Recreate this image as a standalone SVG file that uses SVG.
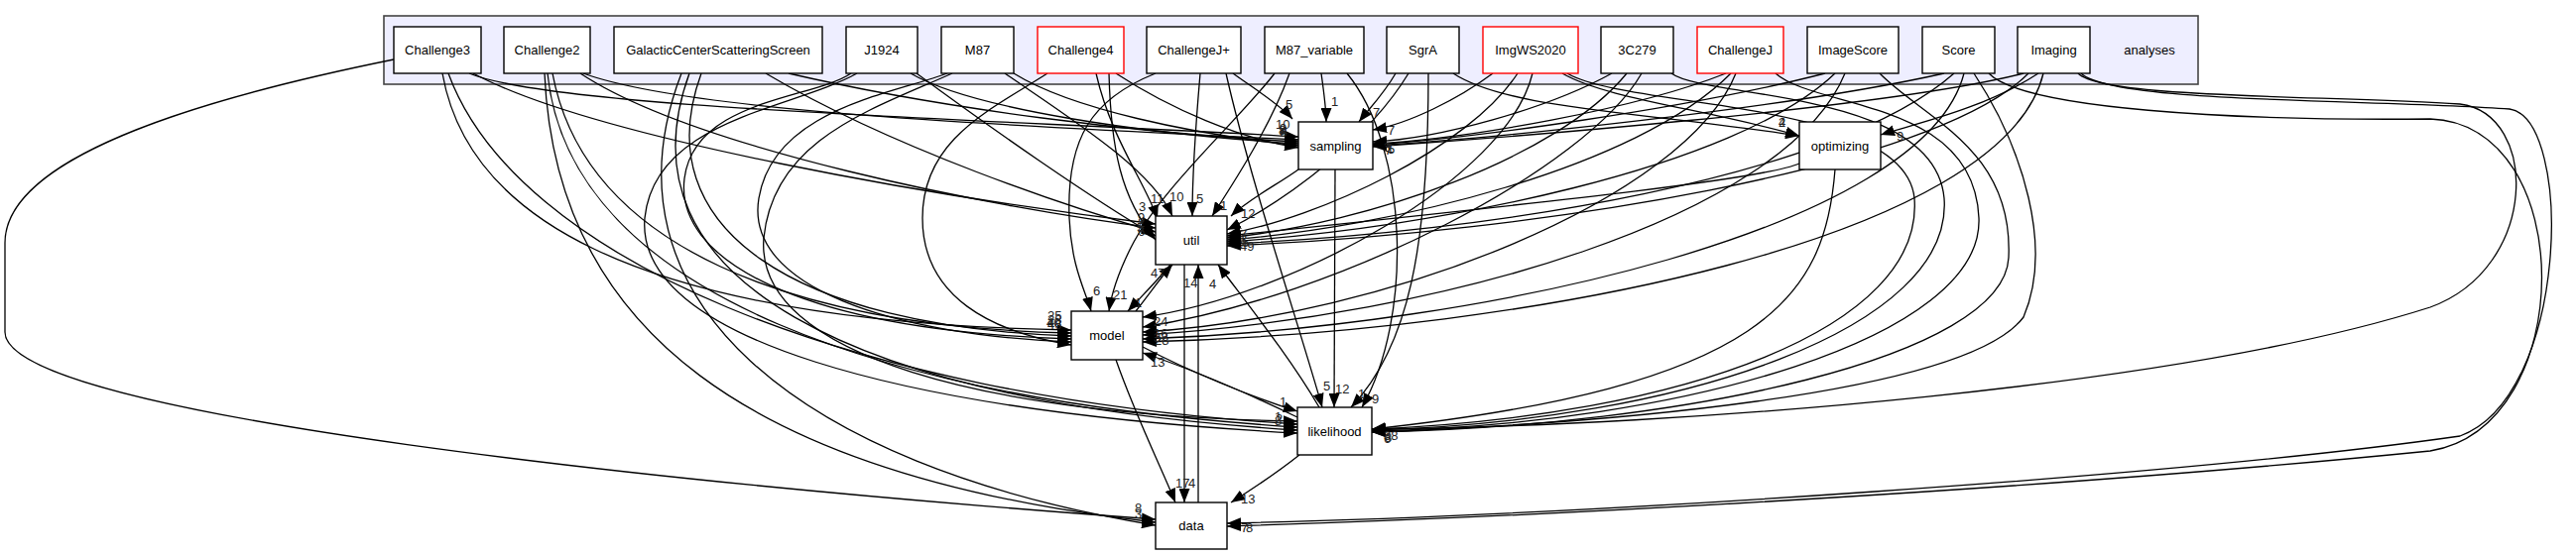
<svg xmlns="http://www.w3.org/2000/svg" width="2597" height="560" viewBox="0 0 2597 560">
<style>
.cl{fill:#eeeeff;stroke:#444;stroke-width:1.6}
.n rect{fill:#fff;stroke:#000;stroke-width:1.4}
.n.r rect{stroke:#ff0000}
.n text,.cl-t{font-family:"Liberation Sans",Arial,sans-serif;font-size:13px;fill:#000;text-anchor:middle}
#edges path{fill:none;stroke:#000;stroke-width:1.3;marker-end:url(#ah)}
#edges text{font-family:"Liberation Sans",Arial,sans-serif;font-size:13px;fill:#222}
</style>
<defs>
<marker id="ah" markerWidth="15" markerHeight="11" refX="14" refY="5.5" orient="auto" markerUnits="userSpaceOnUse">
<path d="M0,0 L14,5.5 L0,11 z" fill="#000"/>
</marker>
</defs>
<rect width="2597" height="560" fill="#fff"/>
<g id="cluster_analyses">
<rect class="cl" x="387" y="16" width="1829" height="69"/>
<text class="cl-t" x="2167" y="55">analyses</text>
</g>
<g id="edges">
<!-- Challenge3 -->
<path d="M397,60 C150,110 5,170 5,245 L5,335 C5,420 700,490 1165,524"/>
<path d="M446,74 C470,210 620,325 1080,333"/>
<path d="M452,74 C520,260 850,400 1308,428"/>
<path d="M473,74 C560,110 1000,120 1309,138"/>
<path d="M477,74 C600,140 950,200 1165,226"/>
<!-- Challenge2 -->
<path d="M549,74 C560,330 750,480 1165,527"/>
<path d="M552,74 C575,300 900,405 1308,431"/>
<path d="M557,74 C590,250 800,330 1080,336"/>
<path d="M585,74 C700,150 1000,210 1165,230"/>
<path d="M588,74 C700,115 1050,128 1309,141"/>
<!-- GalacticCenterScatteringScreen -->
<path d="M687,74 C600,300 800,470 1165,530"/>
<path d="M695,74 C620,280 850,405 1308,434"/>
<path d="M707,74 C650,230 800,330 1080,339"/>
<path d="M772,74 C900,150 1080,210 1165,234"/>
<path d="M795,74 C950,110 1150,135 1309,143"/>
<!-- J1924 -->
<path d="M858,74 C820,100 700,100 690,180 C680,260 800,333 1080,342"/>
<path d="M864,74 C800,110 660,120 650,220 C640,340 900,415 1308,437"/>
<path d="M918,74 C980,110 1150,135 1309,145"/>
<path d="M924,74 C1000,130 1100,200 1165,238"/>
<!-- M87 -->
<path d="M955,74 C900,95 780,110 765,200 C750,290 900,338 1080,345"/>
<path d="M960,74 C880,110 780,140 770,240 C760,360 1000,420 1308,425"/>
<path d="M1013,74 C1080,120 1160,170 1182,218"/>
<path d="M1022,74 C1080,110 1200,135 1309,147"/>
<!-- Challenge4 -->
<path d="M1056,74 C1000,110 930,140 930,220 C930,300 1000,335 1080,348"/>
<path d="M1105,74 C1120,140 1155,185 1167,221"/>
<path d="M1118,74 C1120,150 1130,200 1165,242"/>
<path d="M1125,74 C1180,110 1250,140 1309,149"/>
<!-- ChallengeJ+ -->
<path d="M1165,74 C1100,100 1075,140 1078,220 C1080,270 1095,295 1100,314"/>
<path d="M1210,74 C1206,120 1202,170 1202,218"/>
<path d="M1243,74 C1265,90 1290,105 1303,120"/>
<path d="M1236,74 C1260,180 1310,330 1333,411"/>
<!-- M87_variable -->
<path d="M1285,74 C1250,120 1170,190 1140,250 C1125,280 1120,300 1118,314"/>
<path d="M1300,74 C1280,130 1240,190 1222,218"/>
<path d="M1332,74 C1335,95 1337,110 1337,123"/>
<path d="M1358,74 C1420,150 1425,320 1373,411"/>
<!-- SgrA -->
<path d="M1407,74 C1395,95 1380,110 1370,123"/>
<path d="M1440,74 C1440,250 1420,350 1362,411"/>
<path d="M1420,74 C1380,140 1300,200 1237,232"/>
<path d="M1465,74 C1520,110 1650,112 1814,137"/>
<!-- ImgWS2020 -->
<path d="M1505,74 C1470,100 1420,125 1384,131"/>
<path d="M1530,74 C1480,150 1330,220 1237,236"/>
<path d="M1545,74 C1520,180 1300,300 1152,320"/>
<path d="M1580,74 C1640,110 1920,100 1930,200 C1940,330 1700,420 1383,433"/>
<path d="M1575,74 C1620,100 1720,110 1814,137"/>
<!-- 3C279 -->
<path d="M1625,74 C1560,110 1450,140 1384,143"/>
<path d="M1640,74 C1570,160 1380,225 1237,240"/>
<path d="M1685,74 C1720,100 1950,90 1960,200 C1970,330 1700,425 1383,434"/>
<path d="M1655,74 C1600,170 1350,300 1152,330"/>
<!-- ChallengeJ -->
<path d="M1740,74 C1650,110 1480,140 1384,145"/>
<path d="M1745,74 C1650,170 1400,230 1237,242"/>
<path d="M1750,74 C1700,200 1400,320 1152,335"/>
<path d="M1790,74 C1830,110 1990,100 1995,220 C2000,340 1700,428 1383,435"/>
<!-- ImageScore -->
<path d="M1840,74 C1700,110 1480,140 1384,146"/>
<path d="M1850,74 C1750,170 1450,230 1237,244"/>
<path d="M1860,74 C1800,220 1450,320 1152,338"/>
<path d="M1895,74 C1940,120 2030,150 2025,260 C2020,360 1700,430 1383,436"/>
<!-- Score -->
<path d="M1960,74 C1800,110 1500,140 1384,147"/>
<path d="M1970,74 C1850,180 1500,235 1237,246"/>
<path d="M1980,74 C1940,230 1500,330 1152,342"/>
<path d="M1990,74 C2040,150 2070,250 2040,320 C1980,400 1600,428 1383,436"/>
<path d="M2005,74 C2040,110 2250,122 2450,120 C2600,125 2600,430 2450,455 C2100,490 1600,520 1237,531"/>
<!-- Imaging -->
<path d="M2040,74 C1900,110 1500,140 1384,148"/>
<path d="M2045,74 C1950,170 1550,235 1237,248"/>
<path d="M2055,74 C2000,110 1930,125 1896,136"/>
<path d="M2060,74 C2020,240 1550,335 1152,345"/>
<path d="M2095,74 C2120,100 2350,96 2480,105 C2560,115 2560,270 2450,310 C2200,390 1700,430 1383,433"/>
<path d="M2098,74 C2130,105 2400,100 2530,110 C2595,120 2590,400 2480,440 C2200,480 1600,520 1237,528"/>
<!-- optimizing -->
<path d="M1814,165 C1780,180 1600,200 1237,238"/>
<path d="M1850,171 C1840,300 1780,390 1383,433"/>
<!-- sampling -->
<path d="M1309,171 C1290,185 1260,200 1241,218"/>
<path d="M1346,171 L1345,411"/>
<!-- util -->
<path d="M1180,267 C1165,285 1150,300 1137,314"/>
<path d="M1194,267 L1194,507"/>
<!-- model -->
<path d="M1145,314 C1160,295 1170,280 1182,267"/>
<path d="M1152,350 C1200,375 1260,400 1308,415"/>
<path d="M1125,363 C1145,420 1170,470 1185,507"/>
<!-- likelihood -->
<path d="M1308,421 C1260,398 1200,372 1152,356"/>
<path d="M1330,411 C1300,360 1260,310 1228,267"/>
<path d="M1310,459 C1290,475 1260,495 1241,507"/>
<!-- data -->
<path d="M1208,507 L1208,267"/>
<!-- labels -->
<text x="1286" y="130">10</text><text x="1290" y="134">9</text><text x="1289" y="136">8</text><text x="1291" y="137">4</text><text x="1290" y="138">6</text>
<text x="1296" y="110">5</text><text x="1342" y="107">1</text><text x="1384" y="118">7</text><text x="1399" y="136">7</text>
<text x="1395" y="153">3</text><text x="1399" y="155">5</text><text x="1396" y="156">7</text><text x="1398" y="154">1</text>
<text x="1148" y="213">3</text><text x="1160" y="205">11</text><text x="1179" y="203">10</text><text x="1206" y="205">5</text><text x="1230" y="212">1</text><text x="1251" y="220">12</text>
<text x="1147" y="224">9</text><text x="1147" y="229">2</text><text x="1146" y="234">5</text><text x="1147" y="238">6</text>
<text x="1250" y="241">7</text><text x="1250" y="246">3</text><text x="1252" y="249">5</text><text x="1250" y="253">49</text>
<text x="1160" y="280">47</text><text x="1193" y="290">14</text><text x="1219" y="291">4</text>
<text x="1102" y="298">6</text><text x="1122" y="302">21</text><text x="1144" y="310">1</text>
<text x="1163" y="329">24</text><text x="1163" y="341">16</text><text x="1163" y="345">32</text><text x="1164" y="348">28</text>
<text x="1160" y="370">13</text>
<text x="1056" y="323">25</text><text x="1056" y="327">28</text><text x="1055" y="330">40</text><text x="1056" y="332">46</text>
<text x="1290" y="410">1</text><text x="1285" y="425">1</text><text x="1286" y="427">2</text><text x="1285" y="429">8</text>
<text x="1334" y="394">5</text><text x="1346" y="397">12</text><text x="1369" y="402">1</text><text x="1383" y="407">9</text>
<text x="1395" y="444">38</text><text x="1396" y="446">8</text><text x="1395" y="447">6</text>
<text x="1185" y="492">17</text><text x="1198" y="492">4</text><text x="1251" y="508">13</text>
<text x="1144" y="517">8</text><text x="1144" y="523">3</text>
<text x="1251" y="537">7</text><text x="1256" y="537">8</text>
<text x="1793" y="128">2</text><text x="1793" y="128">4</text><text x="1912" y="142">9</text>
</g>
<g id="node_Challenge3" class="n"><rect x="397" y="27" width="88" height="47"/><text x="441" y="55">Challenge3</text></g>
<g id="node_Challenge2" class="n"><rect x="508" y="27" width="87" height="47"/><text x="551.5" y="55">Challenge2</text></g>
<g id="node_GalacticCenterScatteringScreen" class="n"><rect x="619" y="27" width="210" height="47"/><text x="724" y="55">GalacticCenterScatteringScreen</text></g>
<g id="node_J1924" class="n"><rect x="853" y="27" width="72" height="47"/><text x="889" y="55">J1924</text></g>
<g id="node_M87" class="n"><rect x="949" y="27" width="73" height="47"/><text x="985.5" y="55">M87</text></g>
<g id="node_Challenge4" class="n r"><rect x="1046" y="27" width="87" height="47"/><text x="1089.5" y="55">Challenge4</text></g>
<g id="node_ChallengeJplus" class="n"><rect x="1156" y="27" width="95" height="47"/><text x="1203.5" y="55">ChallengeJ+</text></g>
<g id="node_M87_variable" class="n"><rect x="1275" y="27" width="100" height="47"/><text x="1325" y="55">M87_variable</text></g>
<g id="node_SgrA" class="n"><rect x="1398" y="27" width="73" height="47"/><text x="1434.5" y="55">SgrA</text></g>
<g id="node_ImgWS2020" class="n r"><rect x="1495" y="27" width="96" height="47"/><text x="1543" y="55">ImgWS2020</text></g>
<g id="node_3C279" class="n"><rect x="1614" y="27" width="73" height="47"/><text x="1650.5" y="55">3C279</text></g>
<g id="node_ChallengeJ" class="n r"><rect x="1711" y="27" width="87" height="47"/><text x="1754.5" y="55">ChallengeJ</text></g>
<g id="node_ImageScore" class="n"><rect x="1822" y="27" width="92" height="47"/><text x="1868" y="55">ImageScore</text></g>
<g id="node_Score" class="n"><rect x="1938" y="27" width="73" height="47"/><text x="1974.5" y="55">Score</text></g>
<g id="node_Imaging" class="n"><rect x="2034" y="27" width="73" height="47"/><text x="2070.5" y="55">Imaging</text></g>
<g id="node_sampling" class="n"><rect x="1309" y="123" width="75" height="48"/><text x="1346.5" y="152">sampling</text></g>
<g id="node_optimizing" class="n"><rect x="1814" y="123" width="82" height="48"/><text x="1855" y="152">optimizing</text></g>
<g id="node_util" class="n"><rect x="1165" y="218" width="72" height="49"/><text x="1201" y="247">util</text></g>
<g id="node_model" class="n"><rect x="1080" y="314" width="72" height="49"/><text x="1116" y="343">model</text></g>
<g id="node_likelihood" class="n"><rect x="1308" y="411" width="75" height="48"/><text x="1345.5" y="440">likelihood</text></g>
<g id="node_data" class="n"><rect x="1165" y="507" width="72" height="47"/><text x="1201" y="535">data</text></g>
</svg>
